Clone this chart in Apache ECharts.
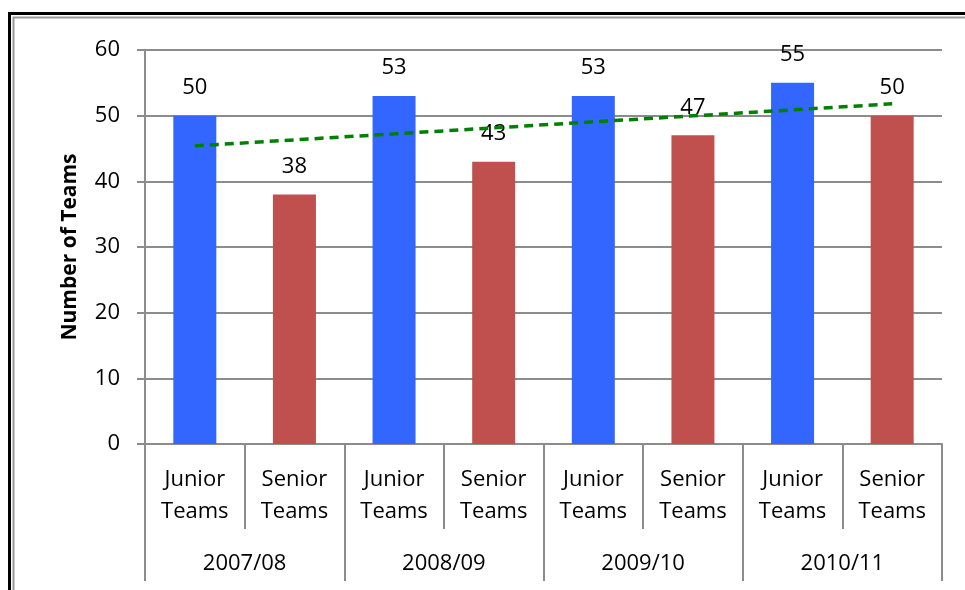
<!DOCTYPE html>
<html>
<head>
<meta charset="utf-8">
<script src="https://cdn.jsdelivr.net/npm/echarts@6/dist/echarts.min.js"></script>
<style>
  html, body { margin: 0; padding: 0; background: #fff; }
  #main { width: 965px; height: 590px; }
</style>
</head>
<body>
<div id="main"></div>
<script>
  // 数据
  var categories = ['Junior\nTeams', 'Senior\nTeams', 'Junior\nTeams', 'Senior\nTeams',
                    'Junior\nTeams', 'Senior\nTeams', 'Junior\nTeams', 'Senior\nTeams']
  var seasons = ['2007/08', '2008/09', '2009/10', '2010/11']
  var juniorValues = [50, '-', 53, '-', 53, '-', 55, '-']
  var seniorValues = ['-', 38, '-', 43, '-', 47, '-', 50]
  // trend line (start / end)
  var trendValues = [45.4, null, null, null, null, null, null, 51.8]
  var yTicks = { min: 0, max: 60, interval: 10 }

  var font = '"Open Sans", "Noto Sans", sans-serif'
  var gray = '#8c8c8c'

  var chart = echarts.init(document.getElementById('main'), null, { renderer: 'canvas' })

  var labelStyle = {
    show: true,
    position: 'top',
    distance: 17,
    color: '#000',
    fontFamily: font,
    fontSize: 22
  }

  var option = {
    animation: false,
    backgroundColor: '#fff',
    graphic: [
      // 外框
      { type: 'rect', shape: { x: 9.5, y: 13.5, width: 1000, height: 600 },
        style: { fill: 'none', stroke: '#000', lineWidth: 3 } },
      { type: 'rect', shape: { x: 13.5, y: 17.5, width: 1000, height: 600 },
        style: { fill: 'none', stroke: '#999', lineWidth: 2 } }
    ],
    grid: { left: 145, right: 23, top: 50, bottom: 146 },
    xAxis: [
      {
        type: 'category',
        data: categories,
        position: 'bottom',
        axisLine: { lineStyle: { color: gray, width: 2 } },
        axisTick: { show: true, interval: 0, length: 85, lineStyle: { color: gray, width: 2 } },
        axisLabel: {
          interval: 0, margin: 20, color: '#000', fontFamily: font,
          fontSize: 22, lineHeight: 32
        }
      },
      {
        type: 'category',
        data: seasons,
        position: 'bottom',
        axisLine: { show: false },
        axisTick: { show: true, interval: 0, length: 137, lineStyle: { color: gray, width: 2 } },
        axisLabel: {
          interval: 0, margin: 104, color: '#000', fontFamily: font,
          fontSize: 22, lineHeight: 32
        }
      }
    ],
    yAxis: {
      type: 'value',
      min: yTicks.min,
      max: yTicks.max,
      interval: yTicks.interval,
      name: 'Number of Teams',
      nameLocation: 'middle',
      nameGap: 64,
      nameTextStyle: { color: '#000', fontFamily: font, fontSize: 21, fontWeight: 'bold' },
      axisLine: { show: true, lineStyle: { color: gray, width: 2 } },
      axisTick: { show: true, length: 8, lineStyle: { color: gray, width: 2 } },
      axisLabel: { margin: 25, color: '#000', fontFamily: font, fontSize: 22 },
      splitLine: { lineStyle: { color: gray, width: 2 } }
    },
    series: [
      {
        name: 'Junior',
        type: 'bar',
        data: juniorValues,
        barWidth: 43,
        barGap: '-100%',
        itemStyle: { color: '#3366FF' },
        label: labelStyle
      },
      {
        name: 'Senior',
        type: 'bar',
        data: seniorValues,
        barWidth: 43,
        barGap: '-100%',
        itemStyle: { color: '#C0504D' },
        label: labelStyle
      },
      {
        name: 'Trend',
        type: 'line',
        data: trendValues,
        connectNulls: true,
        symbol: 'none',
        z: 5,
        lineStyle: { color: '#008000', width: 3.5, type: [9, 6] }
      }
    ]
  }
  chart.setOption(option)
</script>
</body>
</html>
